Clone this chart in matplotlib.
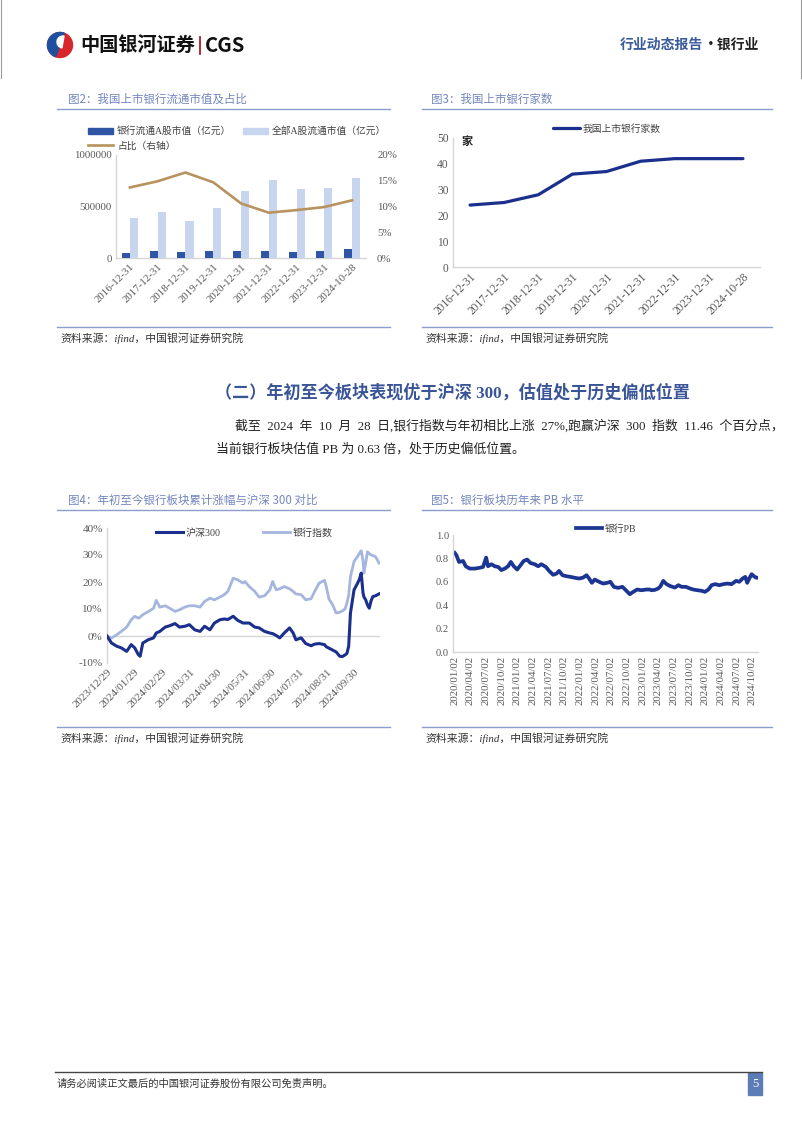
import numpy as np
import pandas as pd
import matplotlib
matplotlib.use("Agg")
import matplotlib.pyplot as plt
import matplotlib.ticker as mticker
from matplotlib.lines import Line2D
from matplotlib.patches import Patch, Circle, Wedge, Rectangle

plt.rcParams['font.family'] = ['Liberation Serif', 'Noto Sans CJK SC']
SANS = ['Noto Sans CJK SC', 'DejaVu Sans']

# ---- data: figure 2 / 3 (year end)
years = ['2016-12-31', '2017-12-31', '2018-12-31', '2019-12-31', '2020-12-31',
         '2021-12-31', '2022-12-31', '2023-12-31', '2024-10-28']
bank_mv = [52000, 68000, 58000, 71000, 68000, 65000, 62000, 65000, 88000]
all_mv = [393000, 451000, 357000, 484000, 646000, 756000, 666000, 679000, 776000]
share_pct = [13.7, 14.9, 16.6, 14.7, 10.6, 8.8, 9.3, 9.9, 11.2]
bank_count = [24, 25, 28, 36, 37, 41, 42, 42, 42]

# ---- data: figure 4 (YTD cumulative change, %)
ytd_dates = ['2023-12-29', '2024-01-03', '2024-01-09', '2024-01-14', '2024-01-20', '2024-01-25',
             '2024-01-29', '2024-02-02', '2024-02-04', '2024-02-07', '2024-02-13', '2024-02-19',
             '2024-02-22', '2024-02-26', '2024-03-03', '2024-03-08', '2024-03-14', '2024-03-19',
             '2024-03-25', '2024-03-30', '2024-04-05', '2024-04-11', '2024-04-16', '2024-04-22',
             '2024-04-27', '2024-05-03', '2024-05-08', '2024-05-12', '2024-05-18', '2024-05-23',
             '2024-05-29', '2024-05-31', '2024-06-05', '2024-06-11', '2024-06-16', '2024-06-22',
             '2024-06-28', '2024-07-01', '2024-07-05', '2024-07-09', '2024-07-14', '2024-07-20',
             '2024-07-24', '2024-07-27', '2024-08-02', '2024-08-07', '2024-08-13', '2024-08-17',
             '2024-08-22', '2024-08-28', '2024-08-30', '2024-09-02', '2024-09-06', '2024-09-10',
             '2024-09-14', '2024-09-17', '2024-09-20', '2024-09-22', '2024-09-24', '2024-09-26',
             '2024-09-30', '2024-10-04', '2024-10-06', '2024-10-08', '2024-10-10', '2024-10-11',
             '2024-10-13', '2024-10-15', '2024-10-17', '2024-10-19', '2024-10-21', '2024-10-24',
             '2024-10-28']
hs300 = [0.0, -2.6, -3.8, -4.4, -5.7, -3.2, -4.4, -6.9, -7.5, -2.6, -1.4, -0.7,
         1.1, 1.7, 3.3, 3.8, 4.6, 3.3, 3.6, 4.2, 2.3, 1.7, 3.6, 2.3,
         4.8, 6.0, 6.3, 6.1, 7.3, 5.8, 4.8, 4.8, 4.8, 3.3, 3.0, 1.7,
         1.1, 0.9, 0.2, -0.7, 1.1, 3.0, 1.1, -1.4, -0.7, -2.8, -3.6, -3.0,
         -2.8, -3.2, -4.0, -4.5, -5.2, -5.9, -7.5, -7.6, -7.0, -6.5, -3.8, 8.5,
         17.1, 19.6, 21.0, 23.3, 16.0, 14.5, 13.4, 11.5, 10.3, 13.0, 14.6, 14.9,
         15.6]
bank_idx = [0.0, -0.8, 0.5, 1.7, 3.3, 6.0, 7.3, 6.6, 7.0, 7.9, 9.0, 10.3,
            13.2, 10.7, 11.2, 10.3, 9.1, 9.7, 10.7, 11.2, 11.2, 10.7, 12.8, 14.0,
            13.4, 14.4, 15.3, 16.5, 21.4, 20.8, 19.6, 20.2, 18.3, 16.5, 14.4, 14.9,
            17.1, 20.2, 17.1, 17.5, 18.3, 17.5, 16.5, 15.6, 15.3, 13.4, 13.8, 16.5,
            19.6, 20.6, 18.3, 13.7, 11.6, 8.5, 8.8, 9.3, 10.0, 12.2, 15.0, 22.0,
            27.6, 29.5, 30.6, 31.6, 28.0, 23.3, 27.0, 31.2, 30.5, 30.0, 29.8, 29.4,
            27.0]
ytd_ticks = ['2023-12-29', '2024-01-29', '2024-02-29', '2024-03-31', '2024-04-30',
             '2024-05-31', '2024-06-30', '2024-07-31', '2024-08-31', '2024-09-30']

# ---- data: figure 5 (bank PB)
pb_dates = ['2020-01-02', '2020-01-12', '2020-01-27', '2020-02-20', '2020-03-06', '2020-03-29',
            '2020-04-28', '2020-05-27', '2020-06-15', '2020-07-03', '2020-07-14', '2020-08-03',
            '2020-08-22', '2020-09-11', '2020-09-30', '2020-10-20', '2020-11-08', '2020-11-24',
            '2020-12-11', '2020-12-31', '2021-01-19', '2021-02-07', '2021-02-27', '2021-03-18',
            '2021-04-12', '2021-05-02', '2021-05-21', '2021-06-16', '2021-07-05', '2021-07-28',
            '2021-08-17', '2021-09-01', '2021-09-21', '2021-10-14', '2021-11-07', '2021-12-02',
            '2021-12-27', '2022-01-19', '2022-02-08', '2022-02-23', '2022-03-11', '2022-03-28',
            '2022-04-22', '2022-05-16', '2022-06-08', '2022-06-27', '2022-07-17', '2022-08-11',
            '2022-09-05', '2022-09-25', '2022-10-18', '2022-11-07', '2022-11-30', '2022-12-25',
            '2023-01-23', '2023-02-12', '2023-02-21', '2023-03-13', '2023-04-02', '2023-04-15',
            '2023-05-01', '2023-05-20', '2023-06-13', '2023-07-08', '2023-07-28', '2023-08-16',
            '2023-09-10', '2023-10-03', '2023-10-23', '2023-11-16', '2023-12-11', '2023-12-30',
            '2024-01-19', '2024-02-07', '2024-02-27', '2024-03-23', '2024-04-15', '2024-05-08',
            '2024-06-02', '2024-06-28', '2024-07-17', '2024-08-05', '2024-08-21', '2024-09-01',
            '2024-09-13', '2024-09-27', '2024-10-10', '2024-10-22', '2024-10-28']
pb = [0.847, 0.827, 0.770, 0.778, 0.733, 0.713, 0.713, 0.720, 0.727, 0.807, 0.733, 0.750,
      0.733, 0.727, 0.700, 0.713, 0.733, 0.770, 0.733, 0.705, 0.741, 0.778, 0.790, 0.761,
      0.750, 0.733, 0.750, 0.727, 0.693, 0.660, 0.670, 0.693, 0.656, 0.648, 0.642, 0.634,
      0.628, 0.636, 0.656, 0.628, 0.591, 0.619, 0.600, 0.585, 0.591, 0.600, 0.557, 0.548,
      0.557, 0.528, 0.494, 0.514, 0.534, 0.528, 0.534, 0.534, 0.528, 0.531, 0.543, 0.562,
      0.608, 0.580, 0.562, 0.551, 0.571, 0.557, 0.557, 0.543, 0.534, 0.528, 0.523, 0.514,
      0.534, 0.571, 0.580, 0.571, 0.580, 0.585, 0.580, 0.608, 0.600, 0.628, 0.642, 0.591,
      0.628, 0.665, 0.648, 0.636, 0.635]
pb_ticks = ['2020-01-02', '2020-04-02', '2020-07-02', '2020-10-02', '2021-01-02', '2021-04-02',
            '2021-07-02', '2021-10-02', '2022-01-02', '2022-04-02', '2022-07-02', '2022-10-02',
            '2023-01-02', '2023-04-02', '2023-07-02', '2023-10-02', '2024-01-02', '2024-04-02',
            '2024-07-02', '2024-10-02']

# colours
NAVY = '#1b2f8c'
BAR_DARK = '#2f55a4'
BAR_LIGHT = '#c8d5ee'
TAN = '#b8935f'
LIGHT_LINE = '#a5b6de'
TITLE_C = '#7386be'
RULE_C = '#8e9dcb'
TICK_C = '#595959'
SPINE_C = '#d6d6d6'

W, H = 802, 1133
fig = plt.figure(figsize=(W / 100, H / 100), dpi=100)
bg = fig.add_axes([0, 0, 1, 1])
bg.set_xlim(0, W)
bg.set_ylim(H, 0)
bg.axis('off')


def rect(x0, y0, x1, y1):
    return [x0 / W, 1 - y1 / H, (x1 - x0) / W, (y1 - y0) / H]


def at(x, y):
    return dict(bbox_to_anchor=(x / W, 1 - y / H), bbox_transform=fig.transFigure)


def style(ax, size=8):
    for s in ['top', 'right']:
        ax.spines[s].set_visible(False)
    for s in ['left', 'bottom']:
        ax.spines[s].set_color(SPINE_C)
        ax.spines[s].set_linewidth(1)
    ax.tick_params(length=0, labelsize=size, labelcolor=TICK_C, pad=3)
    ax.patch.set_alpha(0)


def panel(x0, x1, tx, y_title, y_src, title):
    bg.text(tx, y_title, title, color=TITLE_C, fontsize=8.3, va='center', family=SANS)
    bg.plot([x0, x1], [y_title + 10, y_title + 10], color=RULE_C, lw=1)
    bg.plot([x0, x1], [y_src, y_src], color=RULE_C, lw=1)
    bg.text(x0 + 3, y_src + 11, '资料来源：ifind，中国银河证券研究院', style='italic',
            fontsize=7.8, color='#333333', va='center')


# ---- page header
bg.plot([0.8, 0.8], [0, 78], color='#9a9a9a', lw=0.8)
bg.plot([801, 801], [0, 78], color='#9a9a9a', lw=0.8)
bg.add_patch(Circle((60, 45), 12.5, color='#d9262c'))
bg.add_patch(Wedge((60, 45), 12.5, 110, 290, color='#1f4f9f'))
bg.add_patch(Wedge((63, 42), 6, 100, 280, color='white'))
bg.text(80, 45, '中国银河证券', fontsize=13.8, fontweight='bold', family=SANS, va='center', color='#111111')
bg.plot([200, 200], [37, 54], color='#b01c22', lw=1.3)
bg.text(205, 45, 'CGS', fontsize=14.5, fontweight='bold', family=SANS, va='center', color='#111111')
bg.text(620, 45, '行业动态报告', fontsize=10, fontweight='bold', family=SANS, va='center', color='#3a5a9c')
bg.text(704, 45, '·银行业', fontsize=10, fontweight='bold', family=SANS, va='center', color='#222222')

# ---- figure 2
panel(57, 390, 68, 99, 327, '图2：我国上市银行流通市值及占比')
ax2 = fig.add_axes(rect(116, 155, 366, 258))
style(ax2, 7.8)
x = np.arange(len(years))
ax2.bar(x - 0.145, bank_mv, width=0.29, color=BAR_DARK, zorder=3)
ax2.bar(x + 0.145, all_mv, width=0.29, color=BAR_LIGHT, zorder=3)
ax2.set_xlim(-0.5, len(years) - 0.5)
ax2.set_ylim(0, 1000000)
ax2.set_yticks([0, 500000, 1000000])
ax2.yaxis.set_major_formatter(mticker.FuncFormatter(lambda v, p: f'{v:.0f}'))
ax2.set_xticks(x)
ax2.set_xticklabels(years, rotation=45, ha='right', rotation_mode='anchor')
ax2r = ax2.twinx()
ax2r.plot(x, share_pct, color=TAN, lw=1.9)
ax2r.set_ylim(0, 20)
ax2r.set_yticks([0, 5, 10, 15, 20])
ax2r.yaxis.set_major_formatter(mticker.FuncFormatter(lambda v, p: f'{v:.0f}%'))
for s in ['top', 'right', 'left', 'bottom']:
    ax2r.spines[s].set_visible(False)
ax2r.tick_params(length=0, labelsize=7.8, labelcolor=TICK_C, pad=8)
h2 = [Patch(color=BAR_DARK), Line2D([], [], color=TAN, lw=1.9), Patch(color=BAR_LIGHT)]
l2 = ['银行流通A股市值（亿元）', '占比（右轴）', '全部A股流通市值（亿元）']
ax2.legend(h2, l2, ncol=2, loc='center left', frameon=False, fontsize=7, borderpad=0,
           borderaxespad=0, handlelength=2.6, handleheight=0.55, handletextpad=0.4,
           columnspacing=1.2, labelspacing=0.5, labelcolor='#404040', **at(88, 138.5))

# ---- figure 3
panel(422, 772, 431, 99, 327, '图3：我国上市银行家数')
ax3 = fig.add_axes(rect(453, 138, 760, 267))
style(ax3, 8.3)
ax3.plot(x, bank_count, color=NAVY, lw=2.3, solid_capstyle='round', solid_joinstyle='round',
         label='我国上市银行家数')
ax3.set_xlim(-0.5, len(years) - 0.5)
ax3.set_ylim(0, 50)
ax3.set_yticks(range(0, 51, 10))
ax3.set_xticks(x)
ax3.set_xticklabels(years, rotation=45, ha='right', rotation_mode='anchor')
ax3.legend(loc='center left', frameon=False, fontsize=7, borderpad=0, borderaxespad=0,
           handlelength=2.8, handletextpad=0.3, labelcolor='#404040', **at(553, 129))
bg.text(462, 142, '家', fontsize=8, fontweight='bold', va='center', color='#222222')

# ---- section heading and body text
bg.text(215, 393, '（二）年初至今板块表现优于沪深 300，估值处于历史偏低位置', fontsize=12.3,
        fontweight='bold', va='center', color='#3a5597')
bg.text(235, 426, '截至  2024  年  10  月  28  日,银行指数与年初相比上涨  27%,跑赢沪深  300  指数  11.46  个百分点，',
        fontsize=9.3, va='center', color='#222222')
bg.text(216, 449, '当前银行板块估值 PB 为 0.63 倍，处于历史偏低位置。',
        fontsize=9.3, va='center', color='#222222')

# ---- figure 4
panel(57, 390, 68, 500, 727, '图4：年初至今银行板块累计涨幅与沪深 300 对比')
ax4 = fig.add_axes(rect(107, 528, 380, 663))
style(ax4, 8)
ax4.spines['bottom'].set_visible(False)
d4 = pd.to_datetime(ytd_dates)
ax4.axhline(0, color=SPINE_C, lw=1, zorder=1)
ax4.plot(d4, hs300, color=NAVY, lw=2.2, label='沪深300', zorder=3)
ax4.plot(d4, bank_idx, color=LIGHT_LINE, lw=2.0, label='银行指数', zorder=2)
ax4.set_xlim(pd.Timestamp('2023-12-29'), pd.Timestamp('2024-10-29'))
ax4.set_ylim(-10, 40)
ax4.set_yticks(range(-10, 41, 10))
ax4.yaxis.set_major_formatter(mticker.FuncFormatter(lambda v, p: f'{v:.0f}%'))
t4 = pd.to_datetime(ytd_ticks)
ax4.set_xticks(t4)
ax4.set_xticklabels([d.strftime('%Y/%m/%d') for d in t4], rotation=45, ha='right',
                    rotation_mode='anchor')
ax4.legend(ncol=2, loc='center left', frameon=False, fontsize=7.2, borderpad=0, borderaxespad=0,
           handlelength=2.7, handletextpad=0.3, columnspacing=4.2, labelcolor='#404040',
           **at(156, 533))

# ---- figure 5
panel(422, 772, 431, 500, 727, '图5：银行板块历年来 PB 水平')
ax5 = fig.add_axes(rect(453, 535, 758, 652))
style(ax5, 7.6)
d5 = pd.to_datetime(pb_dates)
ax5.plot(d5, pb, color='#1c3592', lw=2.7, label='银行PB')
ax5.set_xlim(pd.Timestamp('2019-12-23'), pd.Timestamp('2024-11-03'))
ax5.set_ylim(0, 1.0)
ax5.set_yticks(np.arange(0, 1.01, 0.2))
ax5.yaxis.set_major_formatter(mticker.FormatStrFormatter('%.1f'))
t5 = pd.to_datetime(pb_ticks)
ax5.set_xticks(t5)
ax5.set_xticklabels([d.strftime('%Y/%m/%d') for d in t5], rotation=90, ha='center', va='top',
                    fontsize=7.8)
ax5.legend(loc='center left', frameon=False, fontsize=7, borderpad=0, borderaxespad=0,
           handlelength=2.7, handletextpad=0.3, labelcolor='#404040', **at(576, 529))

# ---- footer
bg.plot([55, 762], [1072, 1072], color='#444444', lw=1)
bg.text(57, 1084, '请务必阅读正文最后的中国银河证券股份有限公司免责声明。', fontsize=7.4,
        va='center', color='#333333')
bg.add_patch(Rectangle((748, 1073), 14, 22, color='#5b7cb6'))
bg.text(755, 1084, '5', fontsize=9, color='white', ha='center', va='center')

fig.savefig('out.png', dpi=100)
